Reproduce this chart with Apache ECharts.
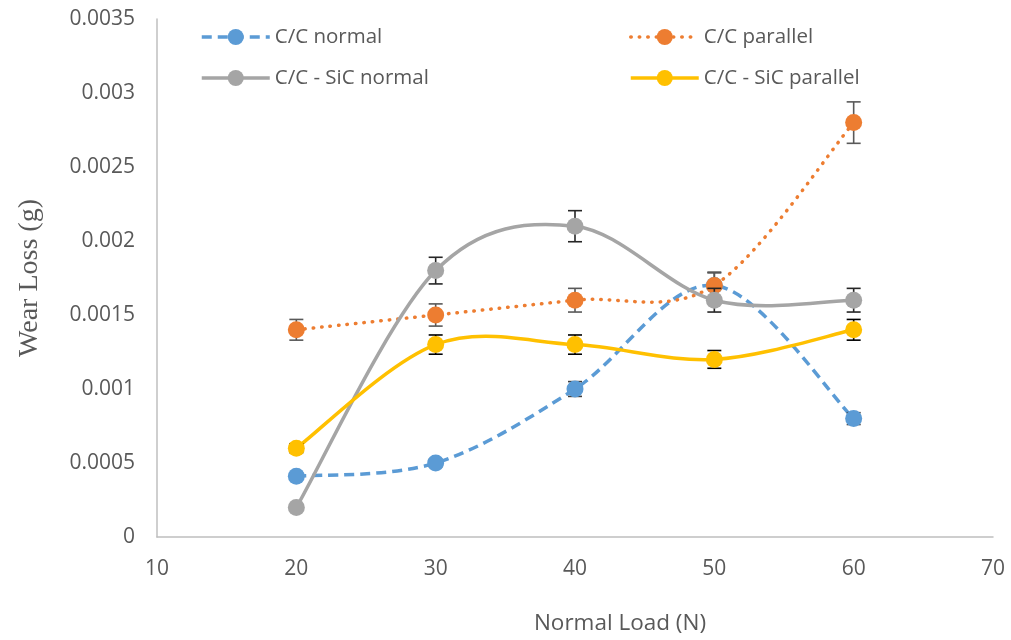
<!DOCTYPE html>
<html>
<head>
<meta charset="utf-8">
<script src="https://cdn.jsdelivr.net/npm/echarts@6/dist/echarts.min.js"></script>
<style>
  html, body { margin: 0; padding: 0; background: #fff; }
  #chart { width: 1011px; height: 640px; }
</style>
</head>
<body>
<div id="chart"></div>
<script>
// Normal load (N)
const loads = [20, 30, 40, 50, 60];

// Wear loss (g) per specimen / orientation
const ccNormal = [0.00041, 0.0005, 0.001, 0.0017, 0.0008];
const ccParallel = [0.0014, 0.0015, 0.0016, 0.0017, 0.0028];
const sicNormal = [0.0002, 0.0018, 0.0021, 0.0016, 0.0016];
const sicParallel = [0.0006, 0.0013, 0.0013, 0.0012, 0.0014];

// Error bar half-widths (g)
const ccNormalErr = [0.00002, 0.000025, 0.00005, 0.000085, 0.00004];
const ccParallelErr = [0.00007, 0.000075, 0.00008, 0.00009, 0.00014];
const sicNormalErr = [0.00001, 0.00009, 0.000105, 0.00008, 0.00008];
const sicParallelErr = [0.00003, 0.000065, 0.000065, 0.00006, 0.00007];

const seriesNames = ['C/C normal', 'C/C parallel', 'C/C - SiC normal', 'C/C - SiC parallel'];

const FONT = '"Open Sans", sans-serif';
const TXT = '#595959';

const styles = [
  { color: '#5B9BD5', type: [10, 6], cap: 'butt' },
  { color: '#ED7D31', type: [0.5, 8], cap: 'round' },
  { color: '#A5A5A5', type: 'solid', cap: 'butt' },
  { color: '#FFC000', type: 'solid', cap: 'butt' }
];

function pairs(vals) {
  return loads.map((x, i) => [x, vals[i]]);
}

// Markers (and legend entry) for one series; the connecting curve is drawn separately
function markerSeries(name, vals, st, z) {
  return {
    name: name,
    type: 'line',
    data: pairs(vals),
    symbol: 'circle',
    symbolSize: 17,
    itemStyle: { color: st.color },
    lineStyle: { color: st.color, width: 3.5, type: st.type, cap: st.cap, opacity: 0 },
    emphasis: { disabled: true },
    z: z
  };
}

// Smoothed connecting curve: cardinal spline through the data points in pixel space
function curveSeries(vals, st, z) {
  return {
    type: 'custom',
    data: [[loads[0], vals[0]]],
    silent: true,
    z: z,
    renderItem: function (params, api) {
      const P = loads.map((x, i) => api.coord([x, vals[i]]));
      const n = P.length;
      const at = k => P[Math.max(0, Math.min(n - 1, k))];
      let d = 'M' + P[0][0] + ' ' + P[0][1];
      for (let i = 0; i < n - 1; i++) {
        const p0 = at(i - 1), p1 = at(i), p2 = at(i + 1), p3 = at(i + 2);
        const c1x = p1[0] + (p2[0] - p0[0]) / 6, c1y = p1[1] + (p2[1] - p0[1]) / 6;
        const c2x = p2[0] - (p3[0] - p1[0]) / 6, c2y = p2[1] - (p3[1] - p1[1]) / 6;
        d += ' C' + c1x + ' ' + c1y + ' ' + c2x + ' ' + c2y + ' ' + p2[0] + ' ' + p2[1];
      }
      return {
        type: 'path',
        shape: { pathData: d },
        style: {
          fill: 'none',
          stroke: st.color,
          lineWidth: 3.5,
          lineDash: Array.isArray(st.type) ? st.type : null,
          lineCap: st.cap
        }
      };
    }
  };
}

function errorSeries(vals, errs, color, z) {
  return {
    type: 'custom',
    data: loads.map((x, i) => [x, vals[i], errs[i]]),
    silent: true,
    z: z,
    renderItem: function (params, api) {
      const x = api.value(0), v = api.value(1), e = api.value(2);
      const top = api.coord([x, v + e]);
      const bot = api.coord([x, v - e]);
      const hw = 7;
      const style = { stroke: color, lineWidth: 1.6 };
      return {
        type: 'group',
        children: [
          { type: 'line', shape: { x1: top[0], y1: top[1], x2: bot[0], y2: bot[1] }, style: style },
          { type: 'line', shape: { x1: top[0] - hw, y1: top[1], x2: top[0] + hw, y2: top[1] }, style: style },
          { type: 'line', shape: { x1: bot[0] - hw, y1: bot[1], x2: bot[0] + hw, y2: bot[1] }, style: style }
        ]
      };
    }
  };
}

function legendItem(k) {
  const st = styles[k];
  return {
    name: seriesNames[k],
    lineStyle: { color: st.color, width: 3.5, type: st.type, cap: st.cap, opacity: 1 }
  };
}

const legendBase = {
  orient: 'vertical',
  top: 20,
  itemWidth: 68,
  itemHeight: 20,
  itemGap: 17,
  selectedMode: false,
  textStyle: { fontFamily: FONT, fontSize: 20.5, color: TXT, lineHeight: 24 }
};

const chart = echarts.init(document.getElementById('chart'));
chart.setOption({
  animation: false,
  backgroundColor: '#ffffff',
  grid: { left: 157, right: 18, top: 19, bottom: 102, containLabel: false },
  legend: [
    Object.assign({}, legendBase, { left: 195, data: [legendItem(0), legendItem(2)] }),
    Object.assign({}, legendBase, { left: 624, data: [legendItem(1), legendItem(3)] })
  ],
  xAxis: {
    type: 'value',
    min: 10,
    max: 70,
    interval: 10,
    name: 'Normal Load (N)',
    nameLocation: 'middle',
    nameGap: 75,
    nameTextStyle: { fontFamily: FONT, fontSize: 22.5, color: TXT, padding: [0, 0, 0, 90] },
    axisLine: { show: true, lineStyle: { color: '#BFBFBF', width: 1.5 } },
    axisTick: { show: false },
    splitLine: { show: false },
    axisLabel: { fontFamily: FONT, fontSize: 21, color: TXT, margin: 22 }
  },
  yAxis: {
    type: 'value',
    min: 0,
    max: 0.0035,
    interval: 0.0005,
    name: 'Wear Loss (g)',
    nameLocation: 'middle',
    nameGap: 113,
    nameTextStyle: { fontFamily: '"Liberation Serif", serif', fontSize: 28, color: TXT },
    axisLine: { show: true, lineStyle: { color: '#BFBFBF', width: 1.5 } },
    axisTick: { show: false },
    splitLine: { show: false },
    axisLabel: {
      fontFamily: FONT, fontSize: 21, color: TXT, margin: 22,
      formatter: v => String(parseFloat(v.toFixed(4)))
    }
  },
  series: [
    curveSeries(ccNormal, styles[0], 1),
    errorSeries(ccNormal, ccNormalErr, '#404040', 2),
    markerSeries(seriesNames[0], ccNormal, styles[0], 3),
    curveSeries(ccParallel, styles[1], 4),
    errorSeries(ccParallel, ccParallelErr, '#595959', 5),
    markerSeries(seriesNames[1], ccParallel, styles[1], 6),
    curveSeries(sicNormal, styles[2], 7),
    errorSeries(sicNormal, sicNormalErr, '#262626', 8),
    markerSeries(seriesNames[2], sicNormal, styles[2], 9),
    curveSeries(sicParallel, styles[3], 10),
    errorSeries(sicParallel, sicParallelErr, '#000000', 11),
    markerSeries(seriesNames[3], sicParallel, styles[3], 12)
  ]
});
</script>
</body>
</html>
